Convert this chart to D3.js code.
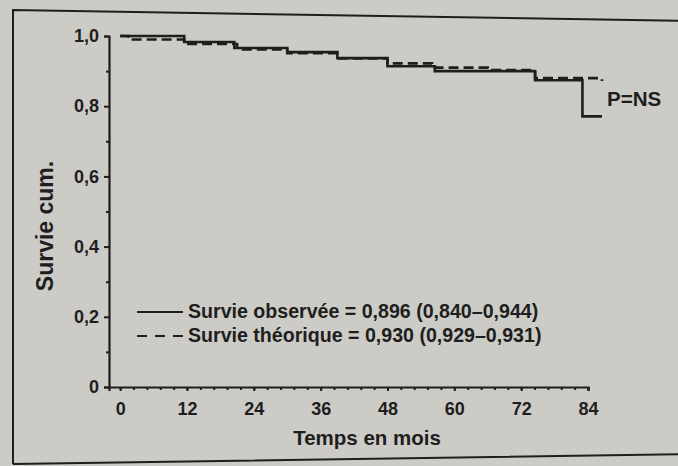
<!DOCTYPE html>
<html>
<head>
<meta charset="utf-8">
<script src="https://cdn.jsdelivr.net/npm/d3@7"></script>
<style>
  body { margin: 0; background: #cccbc6; }
  svg { display: block; }
  text { font-family: "Liberation Sans", Arial, sans-serif; fill: #1e1e1e; font-weight: bold; }
</style>
</head>
<body>
<script>
//data
var obsTime = [0, 11.5, 20.5, 30, 39, 48, 56.5, 74.5, 83, 86.5];
var obsSurv = [1.0, 0.983, 0.966, 0.954, 0.937, 0.914, 0.9, 0.874, 0.771, 0.771];
var theoTime = [0, 1.5, 11.5, 21, 30, 39, 48, 56, 66, 74.5, 86.5];
var theoSurv = [1.0, 0.99, 0.977, 0.962, 0.951, 0.936, 0.922, 0.91, 0.903, 0.88, 0.872];
var xTicks = [0, 12, 24, 36, 48, 60, 72, 84];
var yTicks = [0, 0.2, 0.4, 0.6, 0.8, 1.0];
var legendLabels = ["Survie observée = 0,896 (0,840–0,944)", "Survie théorique = 0,930 (0,929–0,931)"];

var ink = "#1e1e1e";

var svg = d3.select("body").append("svg")
            .attr("width", 678)
            .attr("height", 466);

//outer frame of the printed figure (photo is a bit tilted)
svg.append("path")
   .attr("d", "M13,464 L13,10 L690,21 M13,464 L690,454")
   .attr("fill", "none")
   .attr("stroke", ink)
   .attr("stroke-width", 2);

//scales
var x = d3.scaleLinear().domain([-2, 84]).range([109, 588]);
var y = d3.scaleLinear().domain([0, 1]).range([387, 36]);

//x axis
var xAxis = svg.append("g")
               .attr("transform", "translate(0," + y(0) + ")")
               .call(d3.axisBottom(x).tickValues(xTicks).tickSize(4).tickPadding(11));
xAxis.selectAll("text").attr("font-size", 18);

var xMinor = d3.range(0, 84.01, 2.4);
svg.append("g")
   .attr("transform", "translate(0," + y(0) + ")")
   .call(d3.axisBottom(x).tickValues(xMinor).tickSize(3).tickFormat(""))
   .select(".domain").remove();

//y axis
var yAxis = svg.append("g")
               .attr("transform", "translate(" + x(-2) + ",0)")
               .call(d3.axisLeft(y).tickValues(yTicks).tickSize(5).tickPadding(5)
                     .tickFormat(function(d){ return d === 0 ? "0" : d3.format(".1f")(d).replace(".", ","); }));
yAxis.selectAll("text").attr("font-size", 18);

svg.append("g")
   .attr("transform", "translate(" + x(-2) + ",0)")
   .call(d3.axisLeft(y).tickValues([0.1, 0.3, 0.5, 0.7, 0.9]).tickSize(3).tickFormat(""))
   .select(".domain").remove();

svg.selectAll(".domain").attr("stroke", ink).attr("stroke-width", 2.2);
svg.selectAll(".tick line").attr("stroke", ink).attr("stroke-width", 2);

//axis titles
svg.append("text")
   .attr("x", 367).attr("y", 445)
   .attr("text-anchor", "middle")
   .attr("font-size", 20.5)
   .text("Temps en mois");

svg.append("text")
   .attr("transform", "translate(53,226) rotate(-90)")
   .attr("text-anchor", "middle")
   .attr("font-size", 23)
   .text("Survie cum.");

//survival curves
var line = d3.line()
             .x(function(d){ return x(d[0]); })
             .y(function(d){ return y(d[1]); })
             .curve(d3.curveStepAfter);

svg.append("path")
   .attr("fill", "none")
   .attr("stroke", ink)
   .attr("stroke-width", 2.6)
   .attr("stroke-dasharray", "10,5")
   .attr("d", line(d3.zip(theoTime, theoSurv)));

svg.append("path")
   .attr("fill", "none")
   .attr("stroke", ink)
   .attr("stroke-width", 2.6)
   .attr("d", line(d3.zip(obsTime, obsSurv)));

svg.append("text")
   .attr("x", 607).attr("y", 106)
   .attr("font-size", 20.5)
   .text("P=NS");

//legend
var legend = svg.append("g");
legendLabels.forEach(function(lbl, i){
    var ly = 312 + i * 24;
    legend.append("line")
          .attr("x1", 137).attr("x2", 183)
          .attr("y1", ly).attr("y2", ly)
          .attr("stroke", ink)
          .attr("stroke-width", 2)
          .attr("stroke-dasharray", i === 0 ? null : "10,8");
    legend.append("text")
          .attr("x", 188).attr("y", ly + 6)
          .attr("font-size", 19.6)
          .text(lbl);
});
</script>
</body>
</html>
